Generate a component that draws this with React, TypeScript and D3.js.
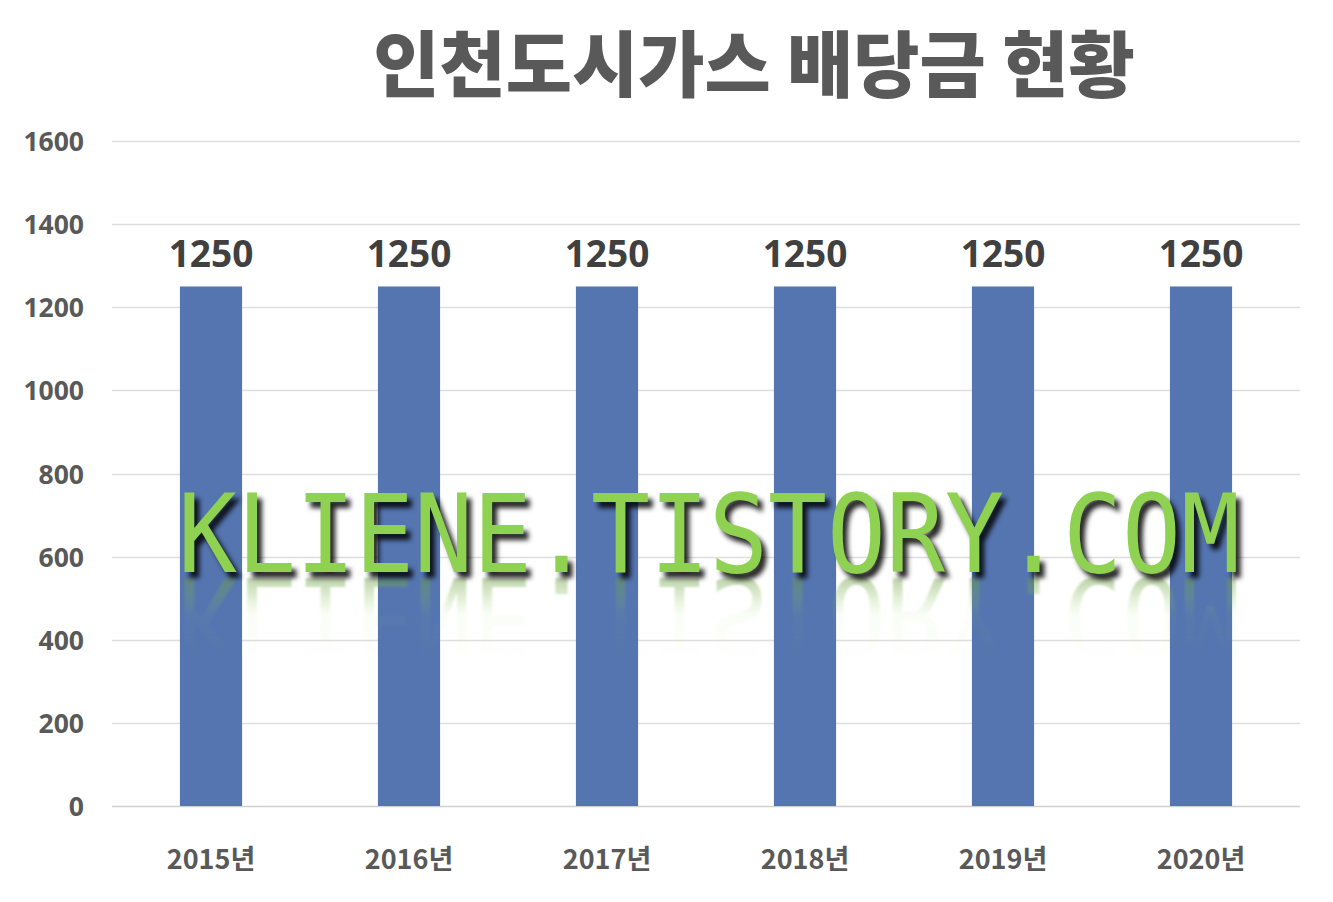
import React, { useEffect, useRef } from "react";
import * as d3 from "d3";

const years = ["2015년", "2016년", "2017년", "2018년", "2019년", "2020년"];
const dividends = [1250, 1250, 1250, 1250, 1250, 1250];
const yTicks = [0, 200, 400, 600, 800, 1000, 1200, 1400, 1600];
const chartTitle = "인천도시가스 배당금 현황";
const watermark = "KLIENE.TISTORY.COM";

const W = 1333;
const H = 902;

export default function App() {
  const ref = useRef<SVGSVGElement>(null);

  useEffect(() => {
    const svg = d3.select(ref.current);
    svg.selectAll("*").remove();

    const margin = { top: 141, right: 33, bottom: 96, left: 112 };
    const x = d3
      .scaleBand()
      .domain(years)
      .range([margin.left, W - margin.right])
      .paddingInner(0.686)
      .paddingOuter(0.343);
    const y = d3.scaleLinear().domain([0, 1600]).range([H - margin.bottom, margin.top]);

    svg.append("rect").attr("width", W).attr("height", H).attr("fill", "#fff");

    // title
    svg
      .append("text")
      .attr("x", 754)
      .attr("y", 91)
      .attr("text-anchor", "middle")
      .attr("font-family", "'Noto Sans CJK KR', sans-serif")
      .attr("font-weight", 900)
      .attr("font-size", 72)
      .attr("fill", "#595959")
      .text(chartTitle);

    // grid
    svg
      .append("g")
      .selectAll("line")
      .data(yTicks)
      .join("line")
      .attr("x1", margin.left)
      .attr("x2", W - margin.right)
      .attr("y1", (d) => Math.round(y(d)) + 0.5)
      .attr("y2", (d) => Math.round(y(d)) + 0.5)
      .attr("stroke", (d) => (d === 0 ? "#d0d0d0" : "#dedede"))
      .attr("stroke-width", 1.3);

    // y labels
    svg
      .append("g")
      .selectAll("text")
      .data(yTicks)
      .join("text")
      .attr("x", 84)
      .attr("y", (d) => y(d) + 10)
      .attr("text-anchor", "end")
      .attr("font-family", "'Open Sans', 'Noto Sans', sans-serif")
      .attr("font-weight", 700)
      .attr("font-size", 26.5)
      .attr("fill", "#595959")
      .text((d) => d);

    // bars
    svg
      .append("g")
      .selectAll("rect")
      .data(dividends)
      .join("rect")
      .attr("x", (_, i) => x(years[i])!)
      .attr("y", (d) => y(d))
      .attr("width", x.bandwidth())
      .attr("height", (d) => y(0) - y(d))
      .attr("fill", "#5575b1");

    // value labels
    svg
      .append("g")
      .selectAll("text")
      .data(dividends)
      .join("text")
      .attr("x", (_, i) => x(years[i])! + x.bandwidth() / 2)
      .attr("y", (d) => y(d) - 19)
      .attr("text-anchor", "middle")
      .attr("font-family", "'Open Sans', 'Noto Sans', sans-serif")
      .attr("font-weight", 700)
      .attr("font-size", 37)
      .attr("fill", "#404040")
      .text((d) => d);

    // x labels
    svg
      .append("g")
      .selectAll("text")
      .data(years)
      .join("text")
      .attr("x", (d) => x(d)! + x.bandwidth() / 2)
      .attr("y", 869)
      .attr("text-anchor", "middle")
      .attr("font-family", "'Noto Sans CJK KR', sans-serif")
      .attr("font-weight", 700)
      .attr("font-size", 27)
      .attr("fill", "#595959")
      .text((d) => d);

    // watermark with shadow and faded reflection
    const defs = svg.append("defs");
    const grad = defs
      .append("linearGradient")
      .attr("id", "refl")
      .attr("gradientUnits", "userSpaceOnUse")
      .attr("x1", 0)
      .attr("y1", 492)
      .attr("x2", 0)
      .attr("y2", 572);
    grad.append("stop").attr("offset", "0").attr("stop-color", "#8fd150").attr("stop-opacity", 0);
    grad.append("stop").attr("offset", "0.55").attr("stop-color", "#8fd150").attr("stop-opacity", 0.05);
    grad.append("stop").attr("offset", "1").attr("stop-color", "#6b9a45").attr("stop-opacity", 0.45);
    const blur = defs.append("filter").attr("id", "blur");
    blur.append("feGaussianBlur").attr("stdDeviation", 2.5);
    const softBlur = defs.append("filter").attr("id", "softBlur");
    softBlur.append("feGaussianBlur").attr("stdDeviation", 1.2);

    const wm = (g: d3.Selection<SVGGElement, unknown, null, undefined>) =>
      g
        .append("text")
        .attr("x", 178)
        .attr("y", 572)
        .attr("textLength", 1062)
        .attr("lengthAdjust", "spacingAndGlyphs")
        .attr("font-family", "'DejaVu Sans Mono', monospace")
        .attr("font-size", 108)
        .text(watermark);

    // reflection mirrored about the baseline
    const reflG = svg
      .append("g")
      .attr("transform", "translate(0,1150) scale(1,-1)")
      .attr("filter", "url(#softBlur)");
    wm(reflG).attr("fill", "url(#refl)");

    const shadowG = svg.append("g").attr("transform", "translate(5,6)").attr("filter", "url(#blur)");
    wm(shadowG).attr("fill", "#000").attr("opacity", 0.85);

    wm(svg.append("g")).attr("fill", "#8fd150");
  }, []);

  return (
    <svg
      ref={ref}
      width={W}
      height={H}
      style={{ position: "absolute", left: 0, top: 0 }}
    />
  );
}
